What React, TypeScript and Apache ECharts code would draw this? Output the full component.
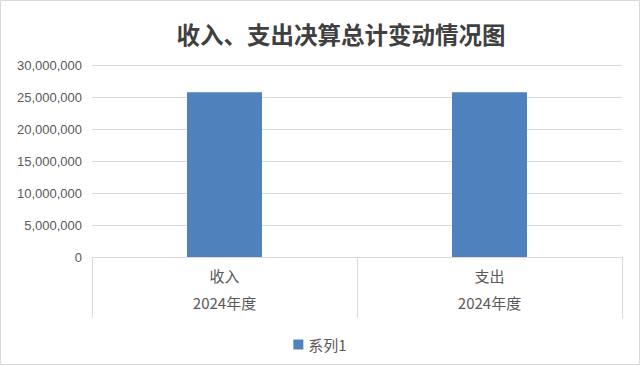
import React, { useEffect, useRef } from "react";
import * as echarts from "echarts";

const categories = ["收入", "支出"];
const periods = ["2024年度", "2024年度"];
const seriesName = "系列1";
const values = [25750000, 25750000];
const yMin = 0;
const yMax = 30000000;
const yInterval = 5000000;
const titleText = "收入、支出决算总计变动情况图";

export default function App() {
  const ref = useRef<HTMLDivElement>(null);
  useEffect(() => {
    if (!ref.current) return;
    const chart = echarts.init(ref.current, undefined, { renderer: "svg" });
    const cjk = "'Noto Sans CJK SC', 'Liberation Sans', sans-serif";
    chart.setOption({
      animation: false,
      backgroundColor: "#ffffff",
      title: {
        text: titleText,
        left: 336,
        textAlign: "center",
        top: 17,
        textStyle: {
          fontFamily: "'Noto Sans CJK SC', serif",
          fontSize: 23.5,
          fontWeight: "bold",
          color: "#404040",
        },
      },
      legend: {
        data: [seriesName],
        left: "center",
        top: 332,
        icon: "rect",
        itemWidth: 10,
        itemHeight: 10,
        itemGap: 5,
        textStyle: { fontFamily: cjk, fontSize: 15, color: "#595959" },
      },
      graphic: [
        {
          type: "rect",
          shape: { x: 0.5, y: 0.5, width: 639, height: 364 },
          style: { fill: "none", stroke: "#d9d9d9", lineWidth: 1 },
          silent: true,
        },
      ],
      grid: { left: 92, right: 18, top: 65, bottom: 108, containLabel: false },
      xAxis: [
        {
          type: "category",
          data: categories,
          position: "bottom",
          axisLine: { show: true, lineStyle: { color: "#d9d9d9" } },
          axisTick: { show: true, length: 61, lineStyle: { color: "#d9d9d9" } },
          axisLabel: { margin: 11, fontFamily: cjk, fontSize: 15, color: "#595959" },
        },
        {
          type: "category",
          data: periods,
          position: "bottom",
          offset: 0,
          gridIndex: 0,
          axisLine: { show: false },
          axisTick: { show: false },
          axisLabel: { margin: 38, fontFamily: cjk, fontSize: 15, color: "#595959" },
        },
      ],
      yAxis: {
        type: "value",
        min: yMin,
        max: yMax,
        interval: yInterval,
        axisLine: { show: false },
        axisTick: { show: false },
        splitLine: { lineStyle: { color: "#d9d9d9" } },
        axisLabel: {
          margin: 10,
          fontFamily: "'Liberation Sans', Arial, sans-serif",
          fontSize: 13,
          color: "#595959",
          formatter: (v: number) => v.toLocaleString("en-US"),
        },
      },
      series: [
        {
          name: seriesName,
          type: "bar",
          xAxisIndex: 0,
          data: values,
          barWidth: 75,
          itemStyle: { color: "#4f81bd" },
        },
      ],
    });
    return () => chart.dispose();
  }, []);
  return (
    <div
      ref={ref}
      style={{ position: "fixed", left: 0, top: 0, width: 640, height: 365 }}
    />
  );
}
